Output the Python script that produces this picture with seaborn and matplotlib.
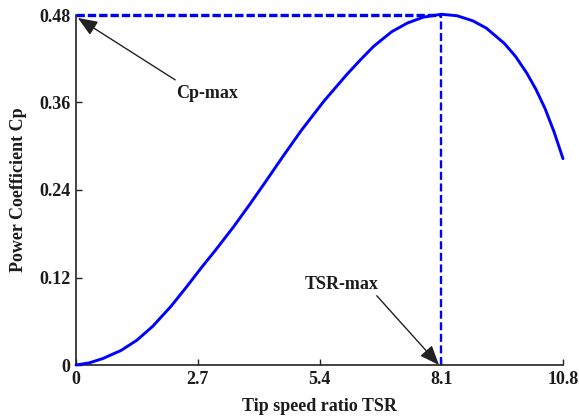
import matplotlib
matplotlib.use("Agg")
import matplotlib.pyplot as plt
import seaborn as sns
import pandas as pd

# Data
tsr = [0.0, 0.3, 0.6, 1.0, 1.35, 1.7, 2.1, 2.45, 2.8, 3.1, 3.5, 3.85, 4.2, 4.6,
       5.0, 5.5, 6.0, 6.3, 6.6, 7.0, 7.35, 7.7, 8.1, 8.45, 8.8, 9.1, 9.5,
       9.75, 10.0, 10.2, 10.4, 10.6, 10.8]
cp = [0.0, 0.003, 0.009, 0.020, 0.034, 0.053, 0.080, 0.107, 0.135, 0.158, 0.190,
      0.220, 0.251, 0.287, 0.322, 0.362, 0.398, 0.418, 0.437, 0.457, 0.469, 0.477,
      0.481, 0.479, 0.472, 0.462, 0.441, 0.423, 0.400, 0.378, 0.352, 0.320, 0.283]
x_ticks = [0, 2.7, 5.4, 8.1, 10.8]
x_tick_labels = ["0", "2.7", "5.4", "8.1", "10.8"]
y_ticks = [0, 0.12, 0.24, 0.36, 0.48]
y_tick_labels = ["0", "0.12", "0.24", "0.36", "0.48"]
cp_max = 0.48
tsr_max = 8.1

sns.set_theme(style="ticks")
plt.rcParams['font.family'] = ['Liberation Serif', 'DejaVu Serif']
plt.rcParams['font.weight'] = 'bold'

df = pd.DataFrame({"TSR": tsr, "Cp": cp})

fig = plt.figure(figsize=(5.79, 4.19), dpi=100)
ax = fig.add_axes([76/579, 1 - 365/419, (563-76)/579, (365-15)/419])

txt_color = '#1c1a1a'
blue = '#0000ff'

sns.lineplot(data=df, x="TSR", y="Cp", ax=ax, color=blue, linewidth=2.1,
             clip_on=False, zorder=3)

# dashed guide lines
ax.plot([0, tsr_max], [cp_max, cp_max], color=blue, lw=2.4,
        linestyle=(0, (2.5, 0.9)), clip_on=False, zorder=2)
ax.plot([tsr_max, tsr_max], [0, cp_max], color=blue, lw=1.7,
        linestyle=(0, (3.4, 1.5)), clip_on=False, zorder=2)

ax.set_xlim(0, 10.8)
ax.set_ylim(0, 0.48)
ax.set_xticks(x_ticks)
ax.set_xticklabels(x_tick_labels)
ax.set_yticks(y_ticks)
ax.set_yticklabels(y_tick_labels)

for s in ['top', 'right']:
    ax.spines[s].set_visible(False)
for s in ['left', 'bottom']:
    ax.spines[s].set_color('#222222')
    ax.spines[s].set_linewidth(1.2)

ax.tick_params(direction='in', length=4, width=1, colors='#222222',
               labelcolor=txt_color, labelsize=13, pad=4)
for lab in ax.get_xticklabels() + ax.get_yticklabels():
    lab.set_fontweight('bold')

ax.set_xlabel("Tip speed ratio TSR", fontsize=13, fontweight='bold',
              color=txt_color)
ax.set_ylabel("Power Coefficient Cp", fontsize=13, fontweight='bold',
              color=txt_color)
ax.yaxis.set_label_coords(-0.10, 0.5)
ax.xaxis.set_label_coords(0.5, -0.095)

arrow = dict(arrowstyle='-|>,head_length=1.0,head_width=0.4', color='#222222',
             lw=1.0, shrinkA=0, shrinkB=0)
ax.annotate("", xy=(0.04, 0.476), xytext=(2.2, 0.391), arrowprops=arrow,
            annotation_clip=False)
ax.text(2.9, 0.372, "Cp-max", fontsize=13, fontweight='bold', color=txt_color,
        ha='center', va='center')
ax.annotate("", xy=(8.05, 0.0), xytext=(6.67, 0.095), arrowprops=arrow,
            annotation_clip=False)
ax.text(5.88, 0.110, "TSR-max", fontsize=13, fontweight='bold', color=txt_color,
        ha='center', va='center')

fig.savefig("out.png", dpi=100)
